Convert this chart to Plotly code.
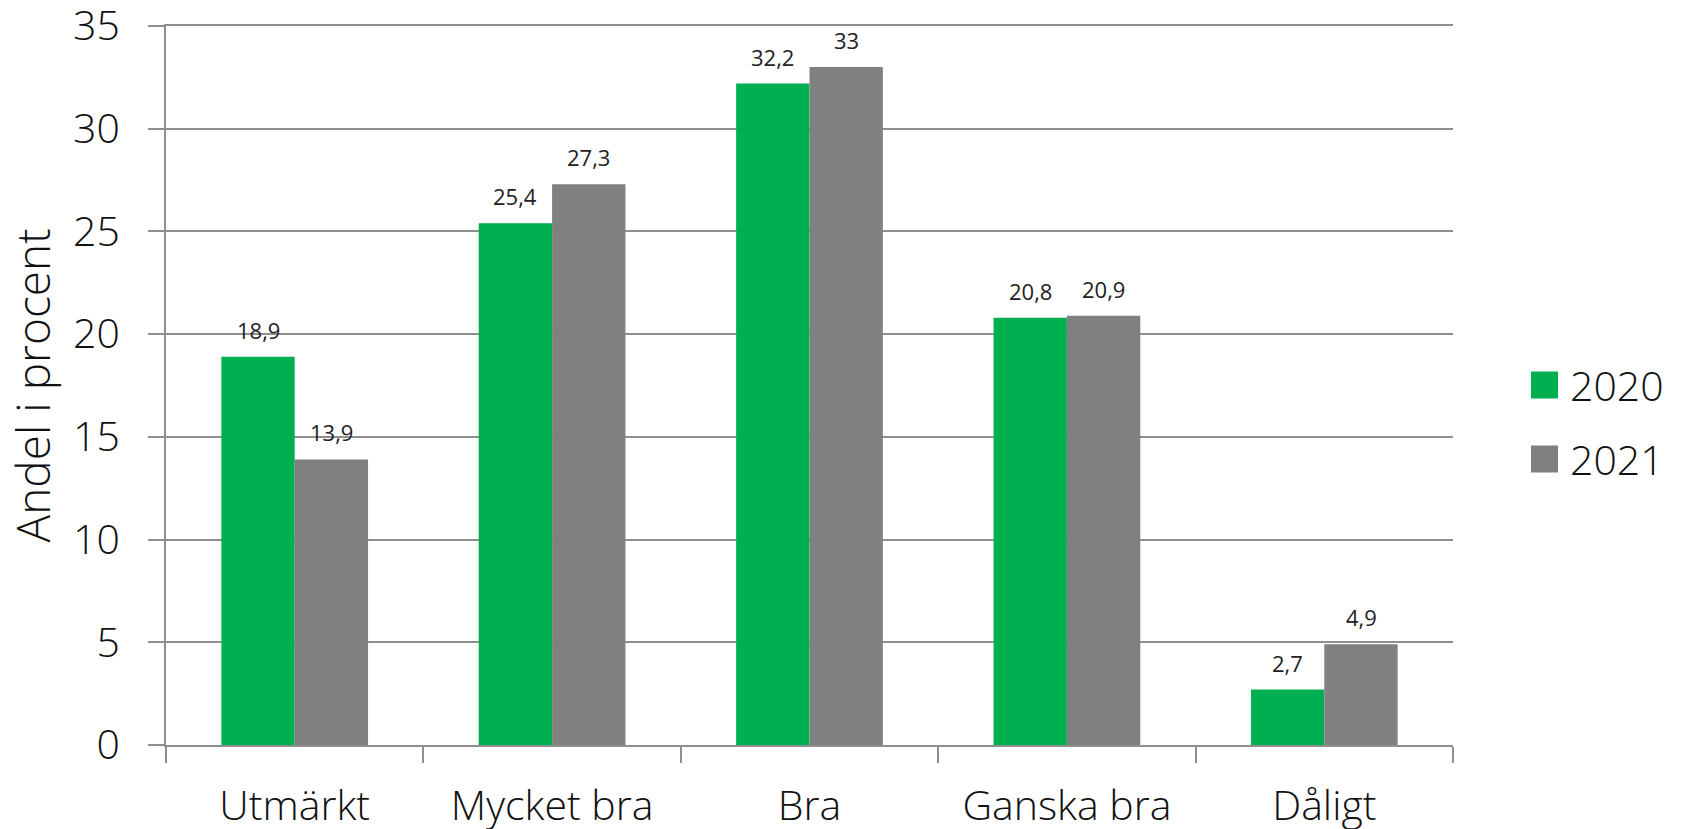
import plotly.graph_objects as go

categories = ["Utmärkt", "Mycket bra", "Bra", "Ganska bra", "Dåligt"]
years = ["2020", "2021"]
values_2020 = [18.9, 25.4, 32.2, 20.8, 2.7]
values_2021 = [13.9, 27.3, 33.0, 20.9, 4.9]
y_ticks = [0, 5, 10, 15, 20, 25, 30, 35]
y_title = "Andel i procent"

colors = {"2020": "#00B050", "2021": "#808080"}
series = {"2020": values_2020, "2021": values_2021}

FONT = "Open Sans"
GRID = "#8f8f8f"
TXT = "#111111"
LIGHT = 300

fig = go.Figure()
for yr in years:
    fig.add_trace(go.Bar(
        x=categories, y=series[yr], name=yr,
        marker=dict(color=colors[yr], line=dict(width=0)),
        showlegend=False,
    ))

def fmt(v):
    s = f"{v:g}"
    return s.replace(".", ",")

# data labels
bar_half = 36.7
for i, yr in enumerate(years):
    shift = -bar_half if i == 0 else bar_half
    for c, v in zip(categories, series[yr]):
        fig.add_annotation(
            x=c, y=v, xref="x", yref="y", text=fmt(v), showarrow=False,
            xshift=shift, yshift=27, yanchor="middle", xanchor="center",
            font=dict(family=FONT, size=22, color="#222222"),
        )

W, H = 1682, 829
l, t = 166, 26
r = W - 1453
b = H - 745
pw, ph = W - l - r, H - t - b
def px_to_paper_x(px):
    return (px - l) / pw
def px_to_paper_y(py):
    return (H - b - py) / ph

# y-axis title
fig.add_annotation(x=px_to_paper_x(31), y=0.5, xref="paper", yref="paper",
                   text=y_title, textangle=-90, showarrow=False,
                   xanchor="center", yanchor="middle",
                   font=dict(family=FONT, size=46, color=TXT, weight=LIGHT))

# manual legend (larger swatches)
legend_rows = [(yr, 385 + 74 * k) for k, yr in enumerate(years)]
for yr, cy in legend_rows:
    fig.add_shape(type="rect", xref="paper", yref="paper",
                  x0=px_to_paper_x(1531), x1=px_to_paper_x(1558),
                  y0=px_to_paper_y(cy - 13.5), y1=px_to_paper_y(cy + 13.5),
                  fillcolor=colors[yr], line=dict(width=0))
    fig.add_annotation(x=px_to_paper_x(1568), y=px_to_paper_y(cy), xref="paper", yref="paper",
                       text=yr, showarrow=False, xanchor="left", yanchor="middle",
                       font=dict(family=FONT, size=41, color=TXT, weight=LIGHT))

fig.update_layout(
    width=W, height=H,
    margin=dict(l=l, r=r, t=t, b=b, pad=0, autoexpand=False),
    paper_bgcolor="white", plot_bgcolor="white",
    barmode="group", bargap=0.43, bargroupgap=0,
    font=dict(family=FONT, color=TXT),
    showlegend=False,
)
fig.update_yaxes(
    range=[0, 35], tickvals=y_ticks, showgrid=True, gridcolor=GRID, gridwidth=2,
    showline=True, linecolor=GRID, linewidth=2, ticks="outside", ticklen=16,
    tickcolor=GRID, tickwidth=2, tickfont=dict(family=FONT, size=41, color=TXT, weight=LIGHT),
    ticklabelstandoff=20, ticklabeloverflow="allow", zeroline=False, automargin=False,
)
fig.update_xaxes(
    showline=True, linecolor=GRID, linewidth=2, mirror=True, ticks="outside", ticklen=16,
    tickcolor=GRID, tickwidth=2, tickson="boundaries", automargin=False,
    tickfont=dict(family=FONT, size=41, color=TXT, weight=LIGHT), showgrid=False,
    ticklabelstandoff=24, ticklabeloverflow="allow",
)

fig.write_html(
    "out.html",
    config={"displayModeBar": False},
    post_script="document.body.style.margin='0';document.body.style.overflow='hidden';",
)
